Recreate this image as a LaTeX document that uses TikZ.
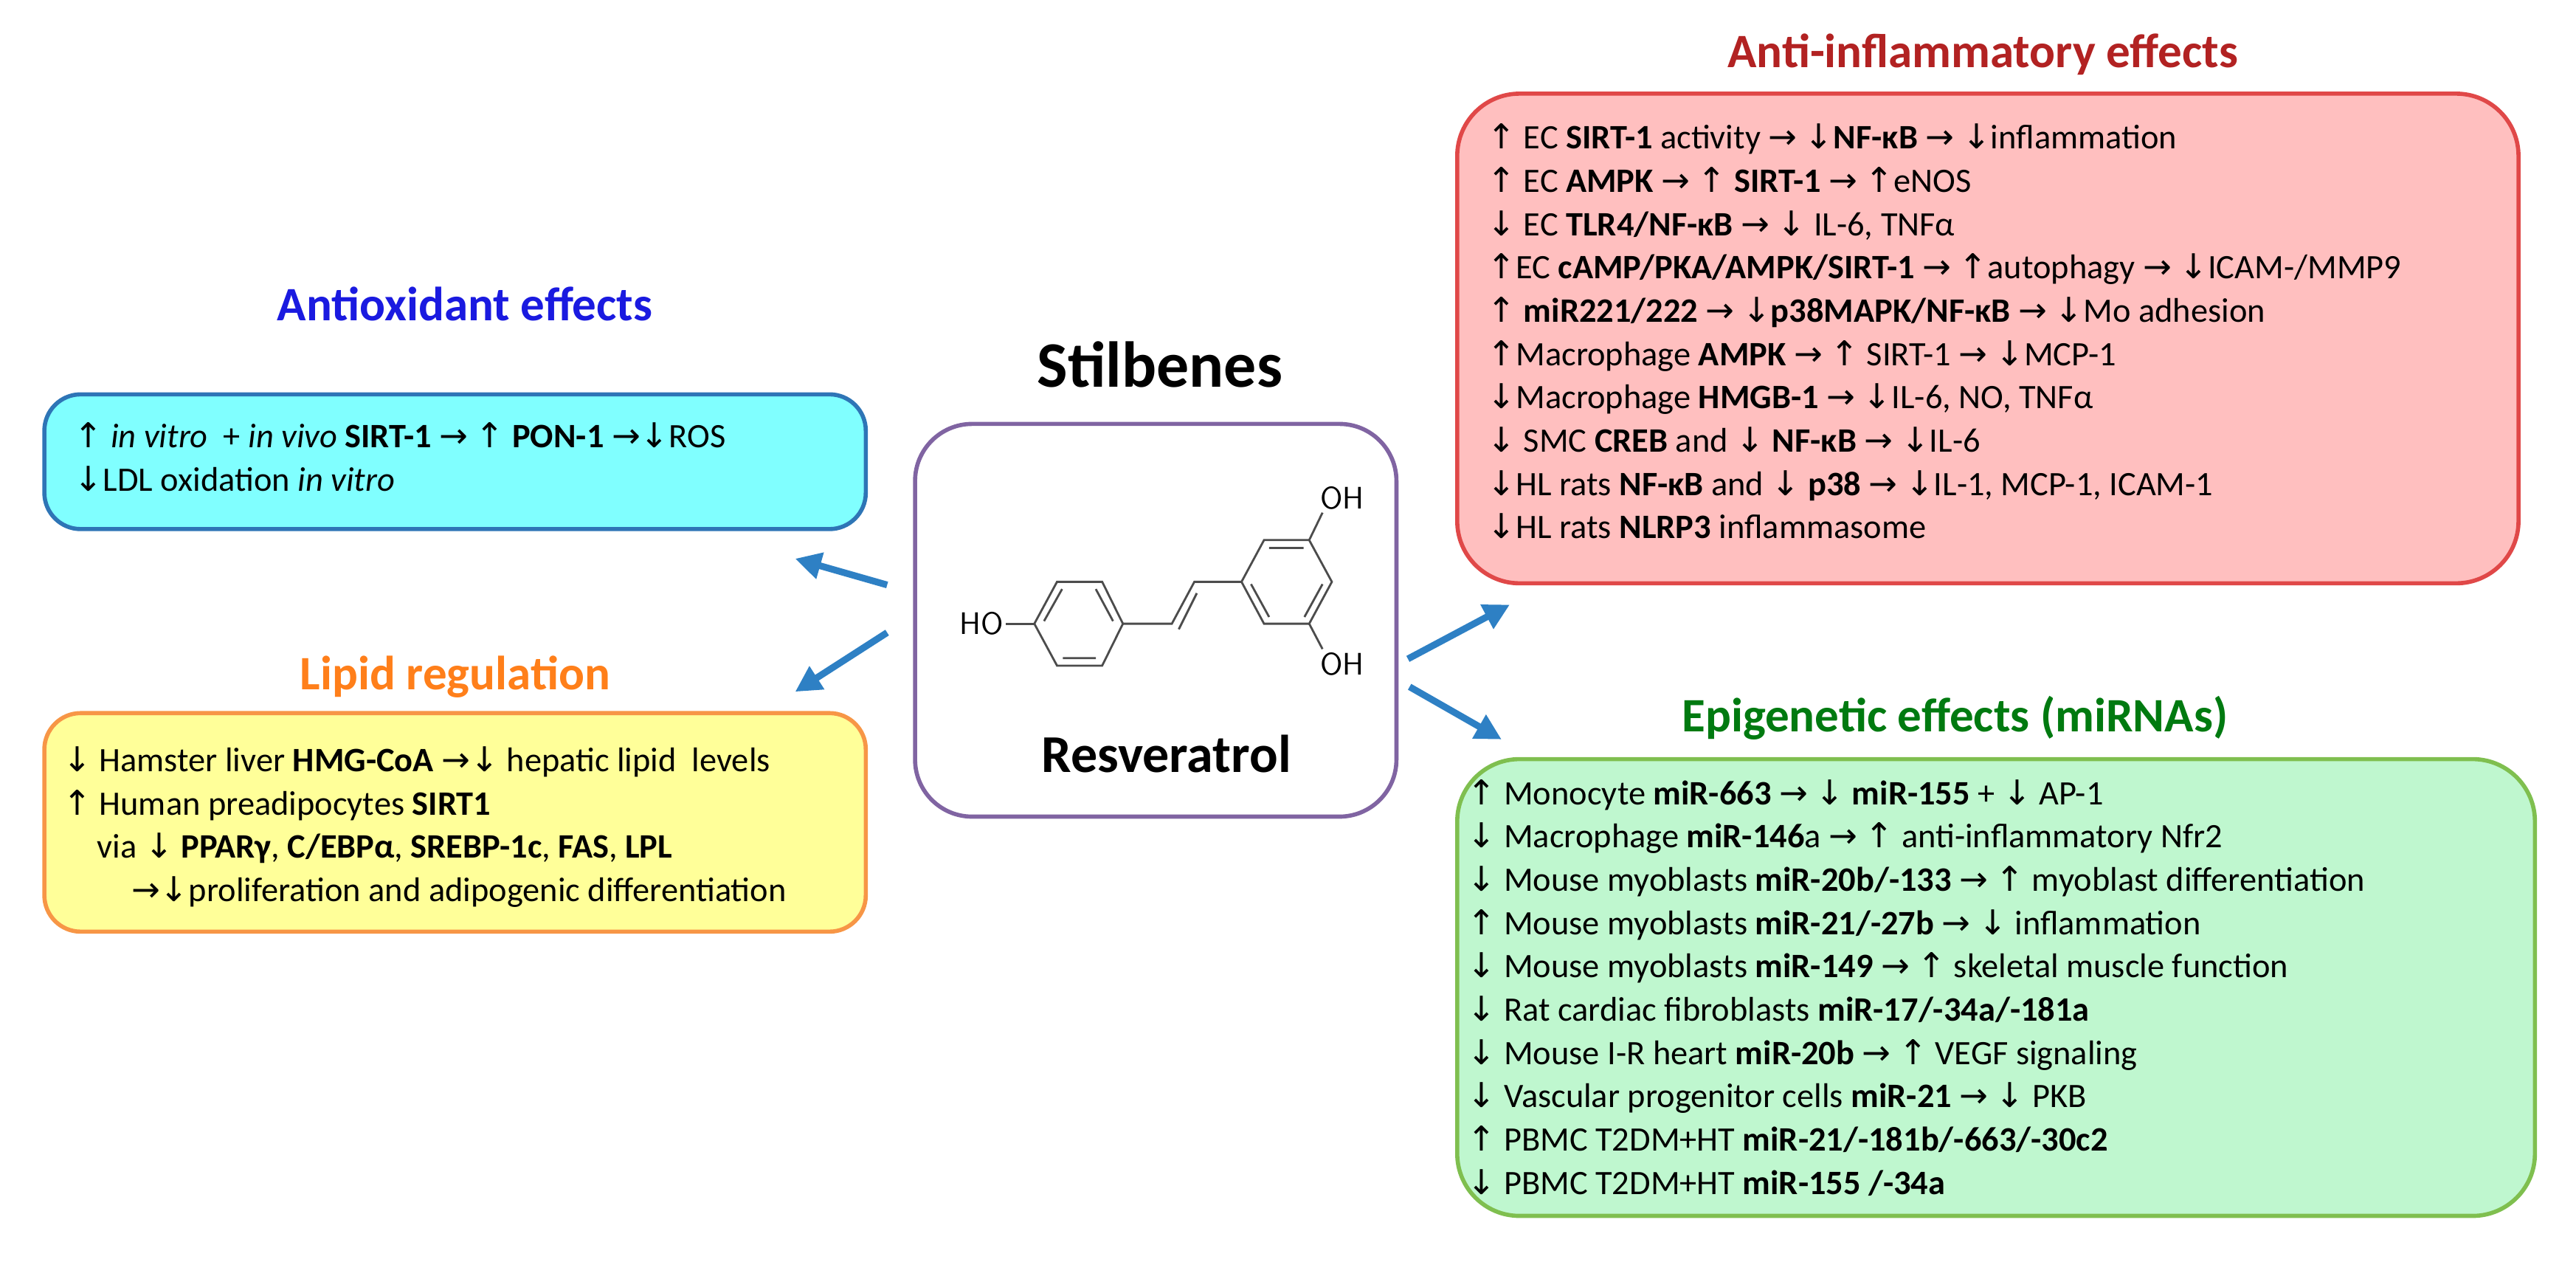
\documentclass[tikz,border=0pt]{standalone}
\usepackage{fontspec}
\setmainfont{Carlito}
\newfontfamily\arrfont{DejaVu Sans}
\usetikzlibrary{arrows.meta}
\newcommand{\myup}{{\arrfont\char"2191}}
\newcommand{\mydn}{{\arrfont\char"2193}}
\newcommand{\myra}{{\arrfont\char"2192}}
\definecolor{boxblue}{HTML}{2E75B6}
\definecolor{fillcyan}{HTML}{80FFFF}
\definecolor{boxorange}{HTML}{F79646}
\definecolor{fillyellow}{HTML}{FFFF99}
\definecolor{boxpurple}{HTML}{8064A2}
\definecolor{boxred}{HTML}{E04848}
\definecolor{fillred}{HTML}{FFBFBF}
\definecolor{boxgreen}{HTML}{7FBF4F}
\definecolor{fillgreen}{HTML}{BFF7CF}
\definecolor{ttblue}{HTML}{1A1AE0}
\definecolor{ttorange}{HTML}{FF7F1A}
\definecolor{ttred}{HTML}{B22222}
\definecolor{ttgreen}{HTML}{007A10}
\definecolor{arrblue}{HTML}{2E80C4}
\begin{document}
\begin{tikzpicture}[x=0.02226cm,y=-0.02226cm,
  box/.style={draw,line width=1.6pt,rounded corners=14pt},
  title/.style={font=\fontsize{18.5}{22}\selectfont\bfseries},
  body/.style={anchor=north west,align=left,inner sep=0pt,
    font=\fontsize{13.2}{16.7}\selectfont},
  link/.style={draw=arrblue,line width=2.6pt,-{Triangle[length=10pt,width=10pt]}},
  bond/.style={draw=black!70,line width=0.8pt}]
\useasboundingbox (0,0) rectangle (1568,768);

% Antioxidant
\node[title,text=ttblue] (tox) at (283,185) {Antioxidant effects};
\draw[box,draw=boxblue,fill=fillcyan] (27,240) rectangle (527,322);
\node[body] (box) at (45,257) {\myup{} \textit{in vitro}~ + \textit{in vivo} \textbf{SIRT-1} \myra{} \myup{} \textbf{PON-1} \myra\mydn ROS\\
\mydn LDL oxidation \textit{in vitro}};

% Lipid
\node[title,text=ttorange] (tlip) at (277,412) {Lipid regulation};
\draw[box,draw=boxorange,fill=fillyellow] (27,434) rectangle (527,567);
\node[body] (blip) at (38,454) {\mydn{} Hamster liver \textbf{HMG-CoA} \myra\mydn{} hepatic lipid~ levels\\
\myup{} Human preadipocytes \textbf{SIRT1}\\
\quad via \mydn{} \textbf{PPARγ}, \textbf{C/EBPα}, \textbf{SREBP-1c}, \textbf{FAS}, \textbf{LPL}\\
\qquad\myra\mydn proliferation and adipogenic differentiation};

% Centre
\node[font=\fontsize{25}{30}\selectfont\bfseries] (tsti) at (706,222) {Stilbenes};
\draw[box,draw=boxpurple,rounded corners=22pt] (557,258) rectangle (850,497);
\node[font=\fontsize{20.5}{24}\selectfont\bfseries] (tres) at (710,459) {Resveratrol};
% molecule
\draw[bond] (629.6,379.6) -- (643.4,354.1) -- (670.9,354.1) -- (683.5,379.6) -- (670.9,405.1) -- (643.4,405.1) -- cycle;
\draw[bond] (635.5,378) -- (646.5,358.5) (667,358.5) -- (677.5,378) (647,400.5) -- (667,400.5);
\draw[bond] (612.4,379.6) -- (629.6,379.6);
\draw[bond] (683.5,379.6) -- (713.3,379.6) -- (727,354.1) -- (755.7,354.1);
\draw[bond] (717.5,383) -- (728.5,361);
\draw[bond] (755.7,354.1) -- (769.4,328.7) -- (796.9,328.7) -- (810.7,354.1) -- (796.9,379.6) -- (769.4,379.6) -- cycle;
\draw[bond] (772.5,333.5) -- (793.5,333.5) (805,355.5) -- (794,375.5) (761.5,355.5) -- (772.5,375.5);
\draw[bond] (796.9,328.7) -- (805,312);
\draw[bond] (796.9,379.6) -- (805,395);
\node[font=\fontsize{12}{14}\selectfont\sffamily,anchor=east,inner sep=0pt] (ho) at (611,379.6) {HO};
\node[font=\fontsize{12}{14}\selectfont\sffamily,inner sep=0pt] (oh1) at (817,303) {OH};
\node[font=\fontsize{12}{14}\selectfont\sffamily,inner sep=0pt] (oh2) at (817,404) {OH};

% Anti-inflammatory
\node[title,text=ttred] (tinf) at (1207,33) {Anti-inflammatory effects};
\draw[box,draw=boxred,fill=fillred,rounded corners=24pt] (887,57) rectangle (1533,355);
\node[body] (binf) at (905,75) {\myup{} EC \textbf{SIRT-1} activity \myra{} \mydn\textbf{NF-κB} \myra{} \mydn inflammation\\
\myup{} EC \textbf{AMPK} \myra{} \myup{} \textbf{SIRT-1} \myra{} \myup eNOS\\
\mydn{} EC \textbf{TLR4/NF-κB} \myra{} \mydn{} IL-6, TNFα\\
\myup EC \textbf{cAMP/PKA/AMPK/SIRT-1} \myra{} \myup autophagy \myra{} \mydn ICAM-/MMP9\\
\myup{} \textbf{miR221/222} \myra{} \mydn\textbf{p38MAPK/NF-κB} \myra{} \mydn Mo adhesion\\
\myup Macrophage \textbf{AMPK} \myra{} \myup{} SIRT-1 \myra{} \mydn MCP-1\\
\mydn Macrophage \textbf{HMGB-1} \myra{} \mydn IL-6, NO, TNFα\\
\mydn{} SMC \textbf{CREB} and \mydn{} \textbf{NF-κB} \myra{} \mydn IL-6\\
\mydn HL rats \textbf{NF-κB} and \mydn{} \textbf{p38} \myra{} \mydn IL-1, MCP-1, ICAM-1\\
\mydn HL rats \textbf{NLRP3} inflammasome};

% Epigenetic
\node[title,text=ttgreen] (tepi) at (1190,437) {Epigenetic effects (miRNAs)};
\draw[box,draw=boxgreen,fill=fillgreen,rounded corners=24pt] (887,462) rectangle (1543,740);
\node[body] (bepi) at (893,474) {\myup{} Monocyte \textbf{miR-663} \myra{} \mydn{} \textbf{miR-155} + \mydn{} AP-1\\
\mydn{} Macrophage \textbf{miR-146}a \myra{} \myup{} anti-inflammatory Nfr2\\
\mydn{} Mouse myoblasts \textbf{miR-20b/-133} \myra{} \myup{} myoblast differentiation\\
\myup{} Mouse myoblasts \textbf{miR-21/-27b} \myra{} \mydn{} inflammation\\
\mydn{} Mouse myoblasts \textbf{miR-149} \myra{} \myup{} skeletal muscle function\\
\mydn{} Rat cardiac fibroblasts \textbf{miR-17/-34a/-181a}\\
\mydn{} Mouse I-R heart \textbf{miR-20b} \myra{} \myup{} VEGF signaling\\
\mydn{} Vascular progenitor cells \textbf{miR-21} \myra{} \mydn{} PKB\\
\myup{} PBMC T2DM+HT \textbf{miR-21/-181b/-663/-30c2}\\
\mydn{} PBMC T2DM+HT \textbf{miR-155 /-34a}};

% arrows
\coordinate (a1s) at (540,356); \coordinate (a1e) at (484,340);
\coordinate (a2s) at (540,385); \coordinate (a2e) at (484,421);
\coordinate (a3s) at (857,401); \coordinate (a3e) at (919,368);
\coordinate (a4s) at (858,418); \coordinate (a4e) at (914,450);
\draw[link] (a1s) -- (a1e);
\draw[link] (a2s) -- (a2e);
\draw[link] (a3s) -- (a3e);
\draw[link] (a4s) -- (a4e);
\end{tikzpicture}
\end{document}
